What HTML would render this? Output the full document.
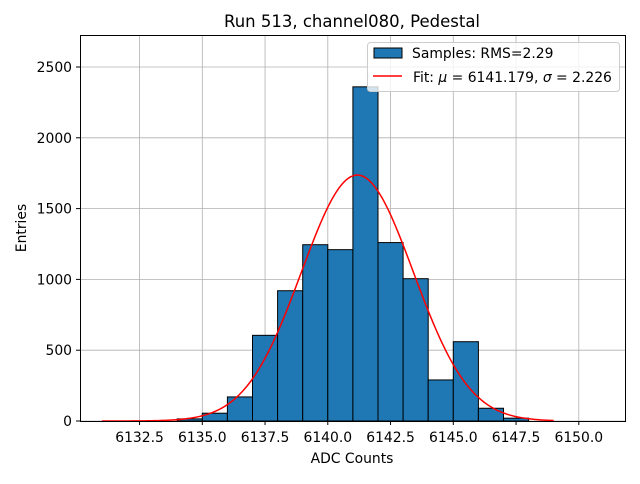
<!DOCTYPE html>
<html><head><meta charset="utf-8"><style>
body{margin:0;background:#fff;font-family:"DejaVu Sans","Liberation Sans",sans-serif;}
svg text{font-family:"DejaVu Sans","Liberation Sans",sans-serif;}
</style></head><body>
<svg id="chart" width="640" height="480" xmlns="http://www.w3.org/2000/svg">
<rect x="0" y="0" width="640" height="480" fill="#fff"/>
<g id="grid"></g>
<g id="bars"></g>
<path id="fit" fill="none" stroke="red" stroke-width="1.5"/>
<rect x="80.5" y="35.5" width="545" height="386" fill="none" stroke="#000" stroke-width="1"/>
<g id="xticks"></g>
<g id="yticks"></g>
<text x="352" y="27" font-size="16.5" text-anchor="middle">Run 513, channel080, Pedestal</text>
<text x="352" y="463" font-size="13.9" text-anchor="middle">ADC Counts</text>
<text transform="translate(26,228) rotate(-90)" font-size="13.9" text-anchor="middle">Entries</text>
<g>
<rect x="367.5" y="42.5" width="252" height="49" rx="3" fill="#fff" fill-opacity="0.8" stroke="#ccc"/>
<rect x="374" y="48" width="28" height="10" fill="#1f77b4" stroke="#000"/>
<text x="412" y="58" font-size="13.9">Samples: RMS=2.29</text>
<line x1="373" y1="76" x2="402" y2="76" stroke="red" stroke-width="1.5"/>
<text x="413" y="82" font-size="13.9">Fit: <tspan font-style="italic">μ</tspan> = 6141.179, <tspan font-style="italic">σ</tspan> = 2.226</text>
</g>
</svg>
<script>
const binEdges=[6134,6135,6136,6137,6138,6139,6140,6141,6142,6143,6144,6145,6146,6147,6148];
const counts=[15,55,170,605,920,1245,1210,2360,1260,1005,290,560,90,20];
const xTicks=[6132.5,6135.0,6137.5,6140.0,6142.5,6145.0,6147.5,6150.0];
const yTicks=[0,500,1000,1500,2000,2500];
const fitMu=6141.179, fitSigma=2.226, fitAmp=1737, fitRange=[6131,6149];
const NS='http://www.w3.org/2000/svg';
const X=v=>202.3+(v-6135)*25.1;
const Y=v=>421-v*0.1416;
function mk(t,a,p){const e=document.createElementNS(NS,t);for(const k in a)e.setAttribute(k,a[k]);p.appendChild(e);return e;}
const grid=document.getElementById('grid'),bars=document.getElementById('bars'),xt=document.getElementById('xticks'),yt=document.getElementById('yticks');
xTicks.forEach(v=>{const x=X(v);
 const g=mk('line',{x1:x,x2:x,y1:35,y2:421,stroke:'#b0b0b0','stroke-width':0.8},grid);
 
 const t=mk('line',{x1:x,x2:x,y1:421,y2:425,stroke:'#000'},xt);
 
 const l=mk('text',{x:x,y:442,'font-size':13.9,'text-anchor':'middle'},xt);l.textContent=v.toFixed(1);
 });
yTicks.forEach(v=>{const y=Y(v);
 const g=mk('line',{x1:80,x2:625,y1:y,y2:y,stroke:'#b0b0b0','stroke-width':0.8},grid);
 
 const t=mk('line',{x1:76,x2:80,y1:y,y2:y,stroke:'#000'},yt);
 
 const l=mk('text',{x:72,y:y+5,'font-size':13.9,'text-anchor':'end'},yt);l.textContent=v;
 });
counts.forEach((c,i)=>{const x0=X(binEdges[i]),x1=X(binEdges[i+1]);
 const r=mk('rect',{x:x0,y:Y(c),width:x1-x0,height:Y(0)-Y(c),fill:'#1f77b4',stroke:'#000','stroke-width':1},bars);
 });
let d='';for(let i=0;i<=200;i++){const v=fitRange[0]+(fitRange[1]-fitRange[0])*i/200;
 const f=fitAmp*Math.exp(-0.5*((v-fitMu)/fitSigma)**2);d+=(i?'L':'M')+X(v).toFixed(2)+','+Y(f).toFixed(2);}
document.getElementById('fit').setAttribute('d',d);
</script>
</body></html>
